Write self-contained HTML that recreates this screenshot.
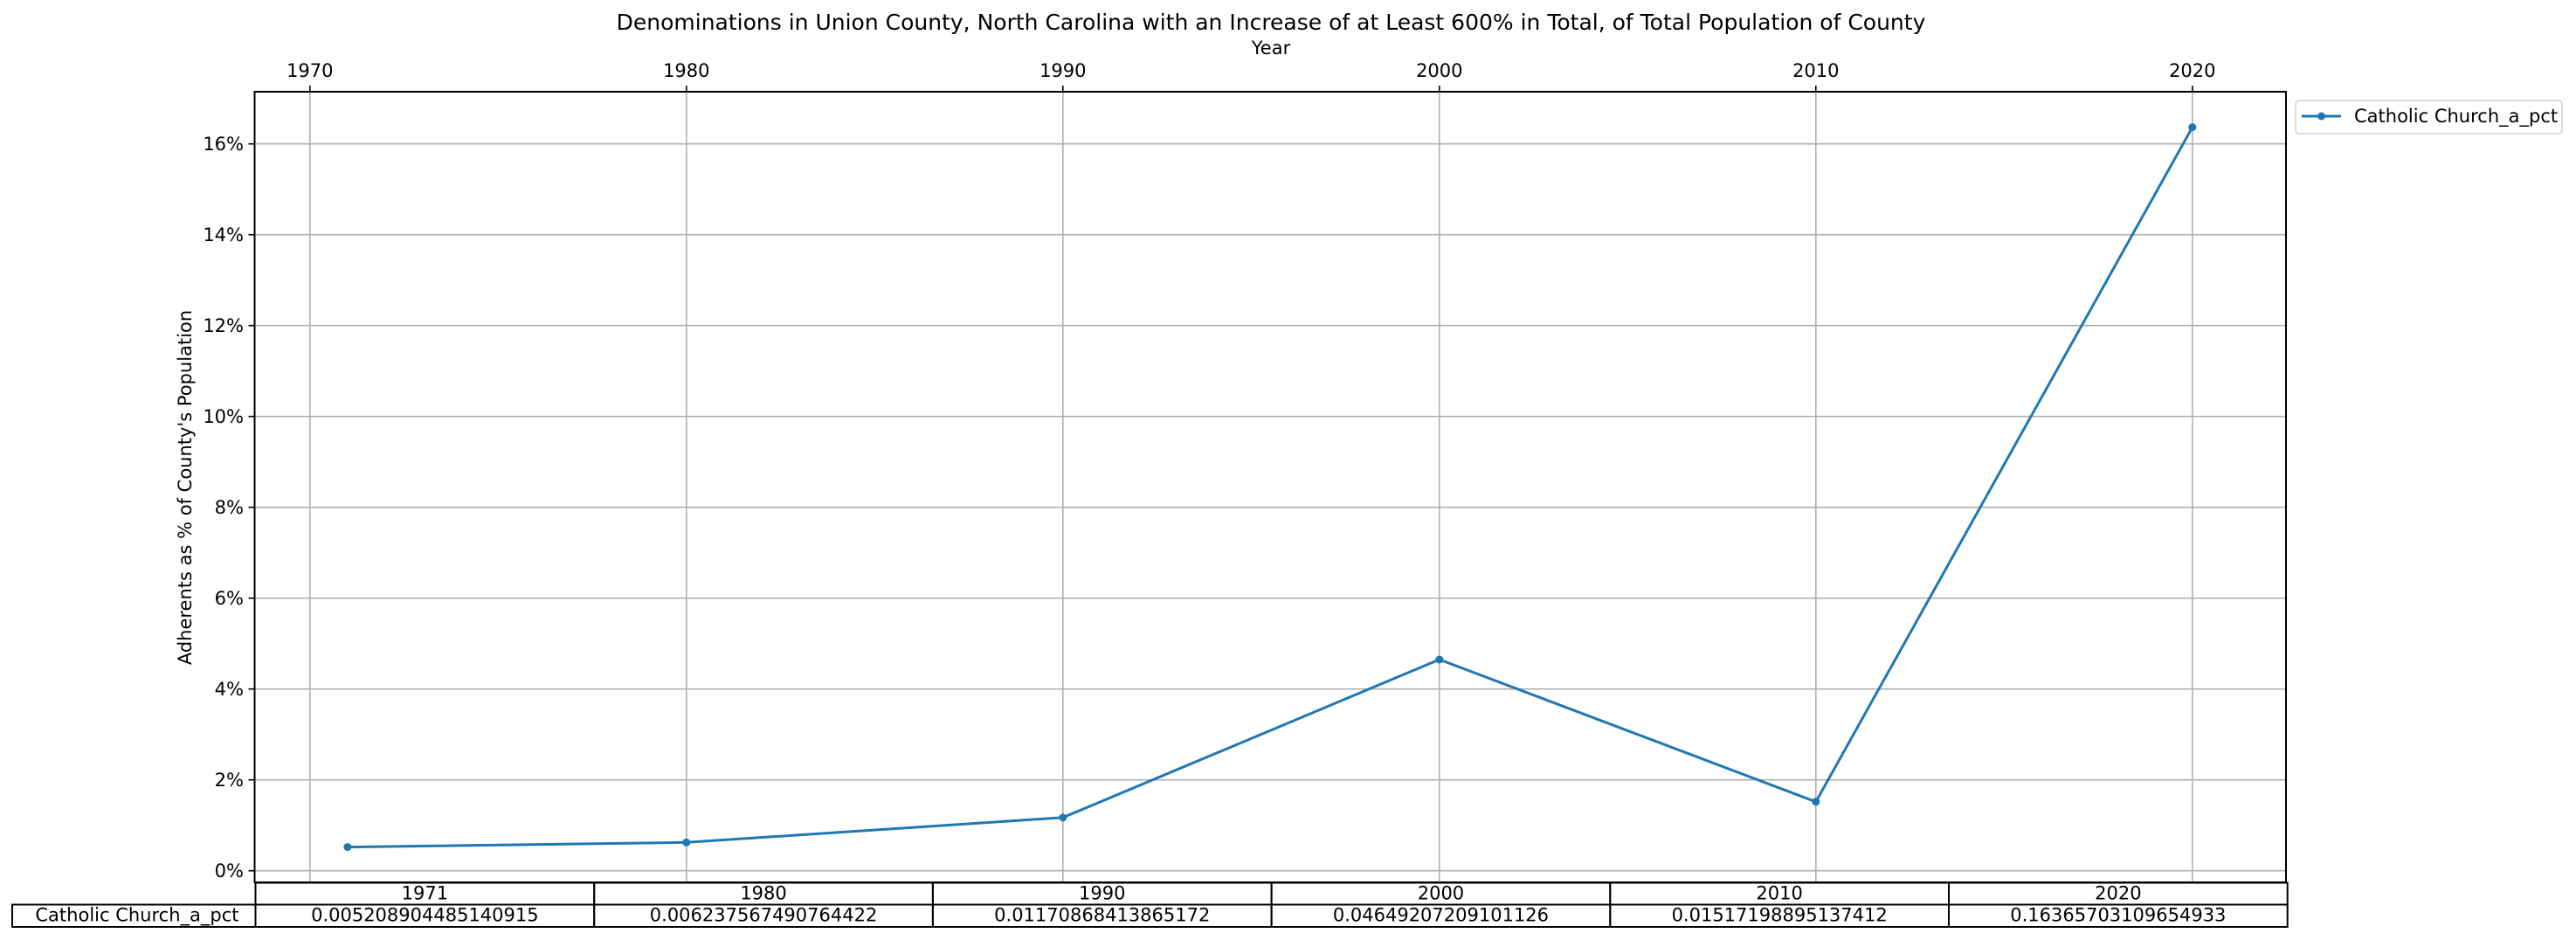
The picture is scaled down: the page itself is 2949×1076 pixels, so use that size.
<!DOCTYPE html>
<html><head><meta charset="utf-8"><style>
html,body{margin:0;padding:0;background:#fff;}
svg{display:block;font-family:"DejaVu Sans","Liberation Sans",sans-serif;}
</style></head><body>
<svg id="chart" width="2949" height="1076" viewBox="0 0 2949 1076" xmlns="http://www.w3.org/2000/svg">
<rect width="2949" height="1076" fill="#fff"/>
<text x="1455" y="34" font-size="25" text-anchor="middle">Denominations in Union County, North Carolina with an Increase of at Least 600% in Total, of Total Population of County</text>
<text x="1455" y="62" font-size="21" text-anchor="middle">Year</text>
<text transform="translate(219,558) rotate(-90)" font-size="21" text-anchor="middle">Adherents as % of County's Population</text>
<g id="grid"></g>
<g id="ticks"></g>
<g id="series"></g>
<rect x="291.5" y="105" width="2325.5" height="905" fill="none" stroke="#000" stroke-width="2"/>
<g id="table"></g>
<g>
<rect x="2628" y="115" width="305" height="38" rx="4" fill="#fff" stroke="#d0d0d0" stroke-width="1.5"/>
<line x1="2635" y1="133" x2="2680" y2="133" stroke="#1f77b4" stroke-width="3"/>
<circle cx="2657.5" cy="133" r="4.5" fill="#1f77b4"/>
<text x="2695" y="140" font-size="21">Catholic Church_a_pct</text>
</g>
</svg>
<script>
const years = [1971, 1980, 1990, 2000, 2010, 2020];
const values = [0.005208904485140915, 0.006237567490764422, 0.01170868413865172, 0.04649207209101126, 0.01517198895137412, 0.16365703109654933];
const valueLabels = ["0.005208904485140915","0.006237567490764422","0.01170868413865172","0.04649207209101126","0.01517198895137412","0.16365703109654933"];
const xTicks = [1970, 1980, 1990, 2000, 2010, 2020];
const yTicks = [0, 0.02, 0.04, 0.06, 0.08, 0.10, 0.12, 0.14, 0.16];
const seriesName = "Catholic Church_a_pct";

const NS = "http://www.w3.org/2000/svg";
function xs(yr){ return 354.8 + (yr - 1970) * 43.1; }
function ys(v){ return 996.7 - v * 5200; }
function mk(tag, attrs, parent){ const e=document.createElementNS(NS,tag); for(const k in attrs) e.setAttribute(k,attrs[k]); parent.appendChild(e); return e; }
const grid=document.getElementById('grid'), ticks=document.getElementById('ticks'), ser=document.getElementById('series'), tbl=document.getElementById('table');
xTicks.forEach(t=>{
  const x=xs(t);
  const g=mk('line',{x1:x,y1:105,x2:x,y2:1010,stroke:'#b0b0b0','stroke-width':1.6},grid);
  
  
  mk('line',{x1:x,y1:98,x2:x,y2:105,stroke:'#000','stroke-width':1.6},ticks);
  const l=mk('text',{x:x,y:88,'font-size':21,'text-anchor':'middle'},ticks);
  l.textContent=t;
  
  
});
yTicks.forEach(t=>{
  const y=ys(t);
  const g=mk('line',{x1:291.5,y1:y,x2:2617,y2:y,stroke:'#b0b0b0','stroke-width':1.6},grid);
  
  
  mk('line',{x1:284.5,y1:y,x2:291.5,y2:y,stroke:'#000','stroke-width':1.6},ticks);
  const l=mk('text',{x:279,y:y+7.5,'font-size':21,'text-anchor':'end'},ticks);
  l.textContent=Math.round(t*100)+'%';
  
  
});
const pts=years.map((yr,i)=>xs(yr)+','+ys(values[i])).join(' ');
const line=mk('polyline',{points:pts,fill:'none',stroke:'#1f77b4','stroke-width':3,'stroke-linejoin':'round'},ser);


years.forEach((yr,i)=>{
  const c=mk('circle',{cx:xs(yr),cy:ys(values[i]),r:4.5,fill:'#1f77b4'},ser);
  
  
});
const c0=292.5, cw=387.7, r0=1010.5, r1=1035.5, r2=1061;
mk('rect',{x:14,y:r1,width:c0-14,height:r2-r1,fill:'none',stroke:'#000','stroke-width':2},tbl);
const rl=mk('text',{x:c0-19,y:r1+19,'font-size':21,'text-anchor':'end'},tbl);
rl.textContent=seriesName;


years.forEach((yr,i)=>{
  const x=c0+i*cw;
  mk('rect',{x:x,y:r0,width:cw,height:r1-r0,fill:'none',stroke:'#000','stroke-width':2},tbl);
  mk('rect',{x:x,y:r1,width:cw,height:r2-r1,fill:'none',stroke:'#000','stroke-width':2},tbl);
  const h=mk('text',{x:x+cw/2,y:r0+19,'font-size':21,'text-anchor':'middle'},tbl);
  h.textContent=yr;
  
  
  const v=mk('text',{x:x+cw/2,y:r1+19,'font-size':21,'text-anchor':'middle'},tbl);
  v.textContent=valueLabels[i];
  
  
});
</script>
</body></html>
